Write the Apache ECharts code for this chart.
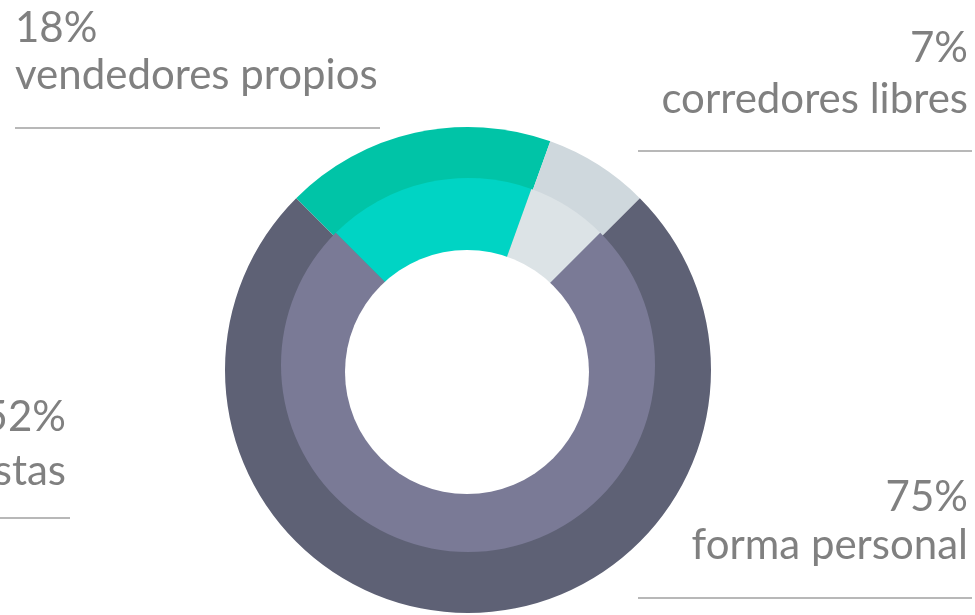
<!DOCTYPE html>
<html>
<head>
<meta charset="utf-8">
<script src="https://cdn.jsdelivr.net/npm/echarts@6/dist/echarts.min.js"></script>
<style>
  html, body { margin: 0; padding: 0; background: #fff; }
  #chart { width: 975px; height: 615px; }
</style>
</head>
<body>
<div id="chart"></div>
<script>
// share per channel, clockwise from upper-left
const names = ['vendedores propios', 'corredores libres', 'forma personal']
const values = [18, 7, 75]
const outerColors = ['#00c4a7', '#cfd8dd', '#5e6175']
const innerColors = ['#00d4c4', '#dce3e6', '#7a7a96']

// side note, cut off at the left edge of the slide
const extraLabel = { value: 52, name: 'especialistas' }

const textColor = '#808080'
const ruleColor = '#a0a0a0'
const font = 'Lato'
const fs = 42

function textEl (txt, x, y, align) {
    return {
        type: 'text',
        x: x,
        y: y,
        silent: true,
        style: {
            text: txt,
            fill: textColor,
            font: fs + 'px ' + font,
            textAlign: align,
            textVerticalAlign: 'middle'
        }
    }
}
function ruleEl (x1, x2, y) {
    return {
        type: 'line',
        silent: true,
        shape: { x1: x1, y1: y, x2: x2, y2: y },
        style: { stroke: ruleColor, lineWidth: 1.5 }
    }
}

// label anchors: [x, y of first line, y of second line, align, rule x1, rule x2, rule y]
const labelPos = [
    [15, 28, 75, 'left', 15, 380, 128],
    [968, 48, 99, 'right', 638, 972, 151],
    [968, 497, 545, 'right', 638, 972, 598]
]

const graphics = []
names.forEach((n, i) => {
    const p = labelPos[i]
    graphics.push(textEl(values[i] + '%', p[0], p[1], p[3]))
    graphics.push(textEl(n, p[0], p[2], p[3]))
    graphics.push(ruleEl(p[4], p[5], p[6]))
})
graphics.push(textEl(extraLabel.value + '%', 66, 417, 'right'))
graphics.push(textEl(extraLabel.name, 66, 471, 'right'))
graphics.push(ruleEl(0, 70, 518))
// donut hole
graphics.push({
    type: 'circle',
    silent: true,
    z: 100,
    shape: { cx: 467, cy: 372, r: 122 },
    style: { fill: '#ffffff' }
})

const chart = echarts.init(document.getElementById('chart'), null, { renderer: 'canvas' })
chart.setOption({
    animation: false,
    series: [
        {
            type: 'pie',
            center: [468, 370],
            radius: [0, 243],
            startAngle: 135,
            clockwise: true,
            silent: true,
            label: { show: false },
            labelLine: { show: false },
            data: values.map((v, i) => ({ value: v, name: names[i], itemStyle: { color: outerColors[i] } }))
        },
        {
            type: 'pie',
            center: [468, 365],
            radius: [0, 187],
            startAngle: 135,
            clockwise: true,
            silent: true,
            label: { show: false },
            labelLine: { show: false },
            data: values.map((v, i) => ({ value: v, name: names[i], itemStyle: { color: innerColors[i] } }))
        }
    ],
    graphic: graphics
})
</script>
</body>
</html>
